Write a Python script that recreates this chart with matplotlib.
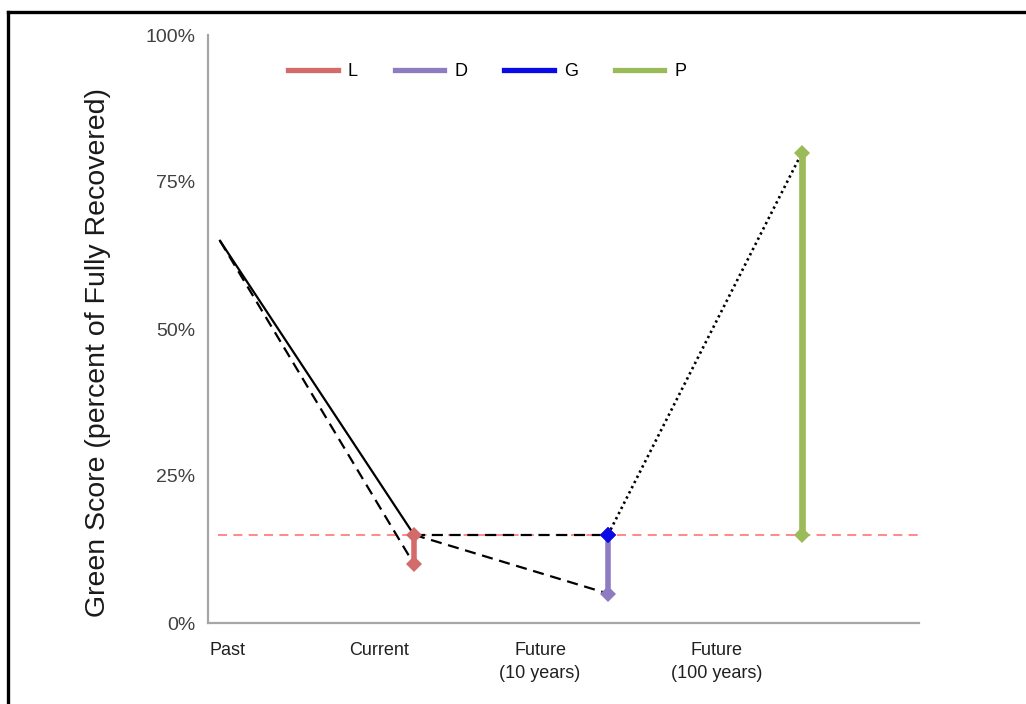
import matplotlib.pyplot as plt
from matplotlib.lines import Line2D

plt.rcParams["font.family"] = ["Liberation Sans", "DejaVu Sans"]

# stages along the x axis (0 = Past, 1 = Current, 2 = Future 10y, 3 = Future 100y)
stage_labels = ["Past", "Current", "Future\n(10 years)", "Future\n(100 years)"]
label_pos = [0.04, 0.82, 1.65, 2.56]

baseline = 0.15

# black trajectory lines
solid_x = [0, 1]
solid_y = [0.65, 0.15]
dash_past_x = [0, 1]
dash_past_y = [0.65, 0.10]
dash_flat_x = [1, 2]
dash_flat_y = [0.15, 0.15]
dash_down_x = [1, 2]
dash_down_y = [0.15, 0.05]
dot_x = [2, 3]
dot_y = [0.15, 0.80]

# vertical range bars
bar_names = ["L", "D", "G", "P"]
bar_x = [1, 2, 2, 3]
bar_lo = [0.10, 0.05, 0.15, 0.15]
bar_hi = [0.15, 0.15, 0.15, 0.80]
bar_colors = ["#D46B6B", "#8E7CC3", "#0A0AE6", "#9BBB59"]
bar_widths = [4.0, 4.0, 4.0, 4.8]

fig = plt.figure(figsize=(10.26, 7.04), dpi=100)
ax = fig.add_axes([208 / 1026, 1 - 623 / 704, (919 - 208) / 1026, (623 - 35) / 704])

ax.plot([-0.01, 3.61], [baseline, baseline], color="#FF7F7F", lw=1.3,
        dashes=(5, 3.5), zorder=1)

ax.plot(solid_x, solid_y, color="black", lw=1.6, zorder=3)
ax.plot(dash_past_x, dash_past_y, color="black", lw=1.6, dashes=(5, 3), zorder=3)
ax.plot(dash_flat_x, dash_flat_y, color="black", lw=1.6, dashes=(5, 3), zorder=3)
ax.plot(dash_down_x, dash_down_y, color="black", lw=1.6, dashes=(5, 3), zorder=3)
ax.plot(dot_x, dot_y, color="black", lw=1.9, dashes=(0.9, 1.3), zorder=3)

for name, x, lo, hi, c, w in zip(bar_names, bar_x, bar_lo, bar_hi, bar_colors, bar_widths):
    ax.plot([x, x], [lo, hi], color=c, lw=w, marker="D", markersize=8,
            markeredgewidth=0, solid_capstyle="butt", zorder=4)

handles = [Line2D([], [], color=c, lw=3.8) for c in bar_colors]
ax.legend(handles, bar_names, ncol=4, frameon=False, fontsize=13,
          loc="center left", bbox_to_anchor=(288 / 1026, 1 - 72 / 704),
          bbox_transform=fig.transFigure, borderpad=0, borderaxespad=0,
          handlelength=2.75, handletextpad=0.55, columnspacing=2.05)

ax.set_xlim(-12 / 194, 699 / 194)
ax.set_ylim(0, 1)
ax.set_yticks([0, 0.25, 0.5, 0.75, 1.0])
ax.set_yticklabels(["0%", "25%", "50%", "75%", "100%"], fontsize=14, color="#404040")
ax.tick_params(axis="y", length=0, pad=9)
ax.set_xticks(label_pos)
ax.set_xticklabels(stage_labels, fontsize=13, color="#202020", linespacing=1.4)
ax.tick_params(axis="x", length=0, pad=14)
for t in ax.get_xticklabels():
    t.set_verticalalignment("top")

ax.set_ylabel("Green Score (percent of Fully Recovered)", fontsize=20.5,
              color="#1A1A1A")
ax.yaxis.set_label_coords(-0.136, 0.46)

for s in ["top", "right"]:
    ax.spines[s].set_visible(False)
for s in ["left", "bottom"]:
    ax.spines[s].set_color("#A6A6A6")
    ax.spines[s].set_linewidth(1.6)

# outer frame (left and top edges only, as in the source image)
fig.add_artist(Line2D([8 / 1026, 8 / 1026], [0, 1 - 12 / 704], color="black", lw=2.4))
fig.add_artist(Line2D([8 / 1026, 1], [1 - 12 / 704, 1 - 12 / 704], color="black", lw=2.4))

fig.savefig("out.png", dpi=100)
